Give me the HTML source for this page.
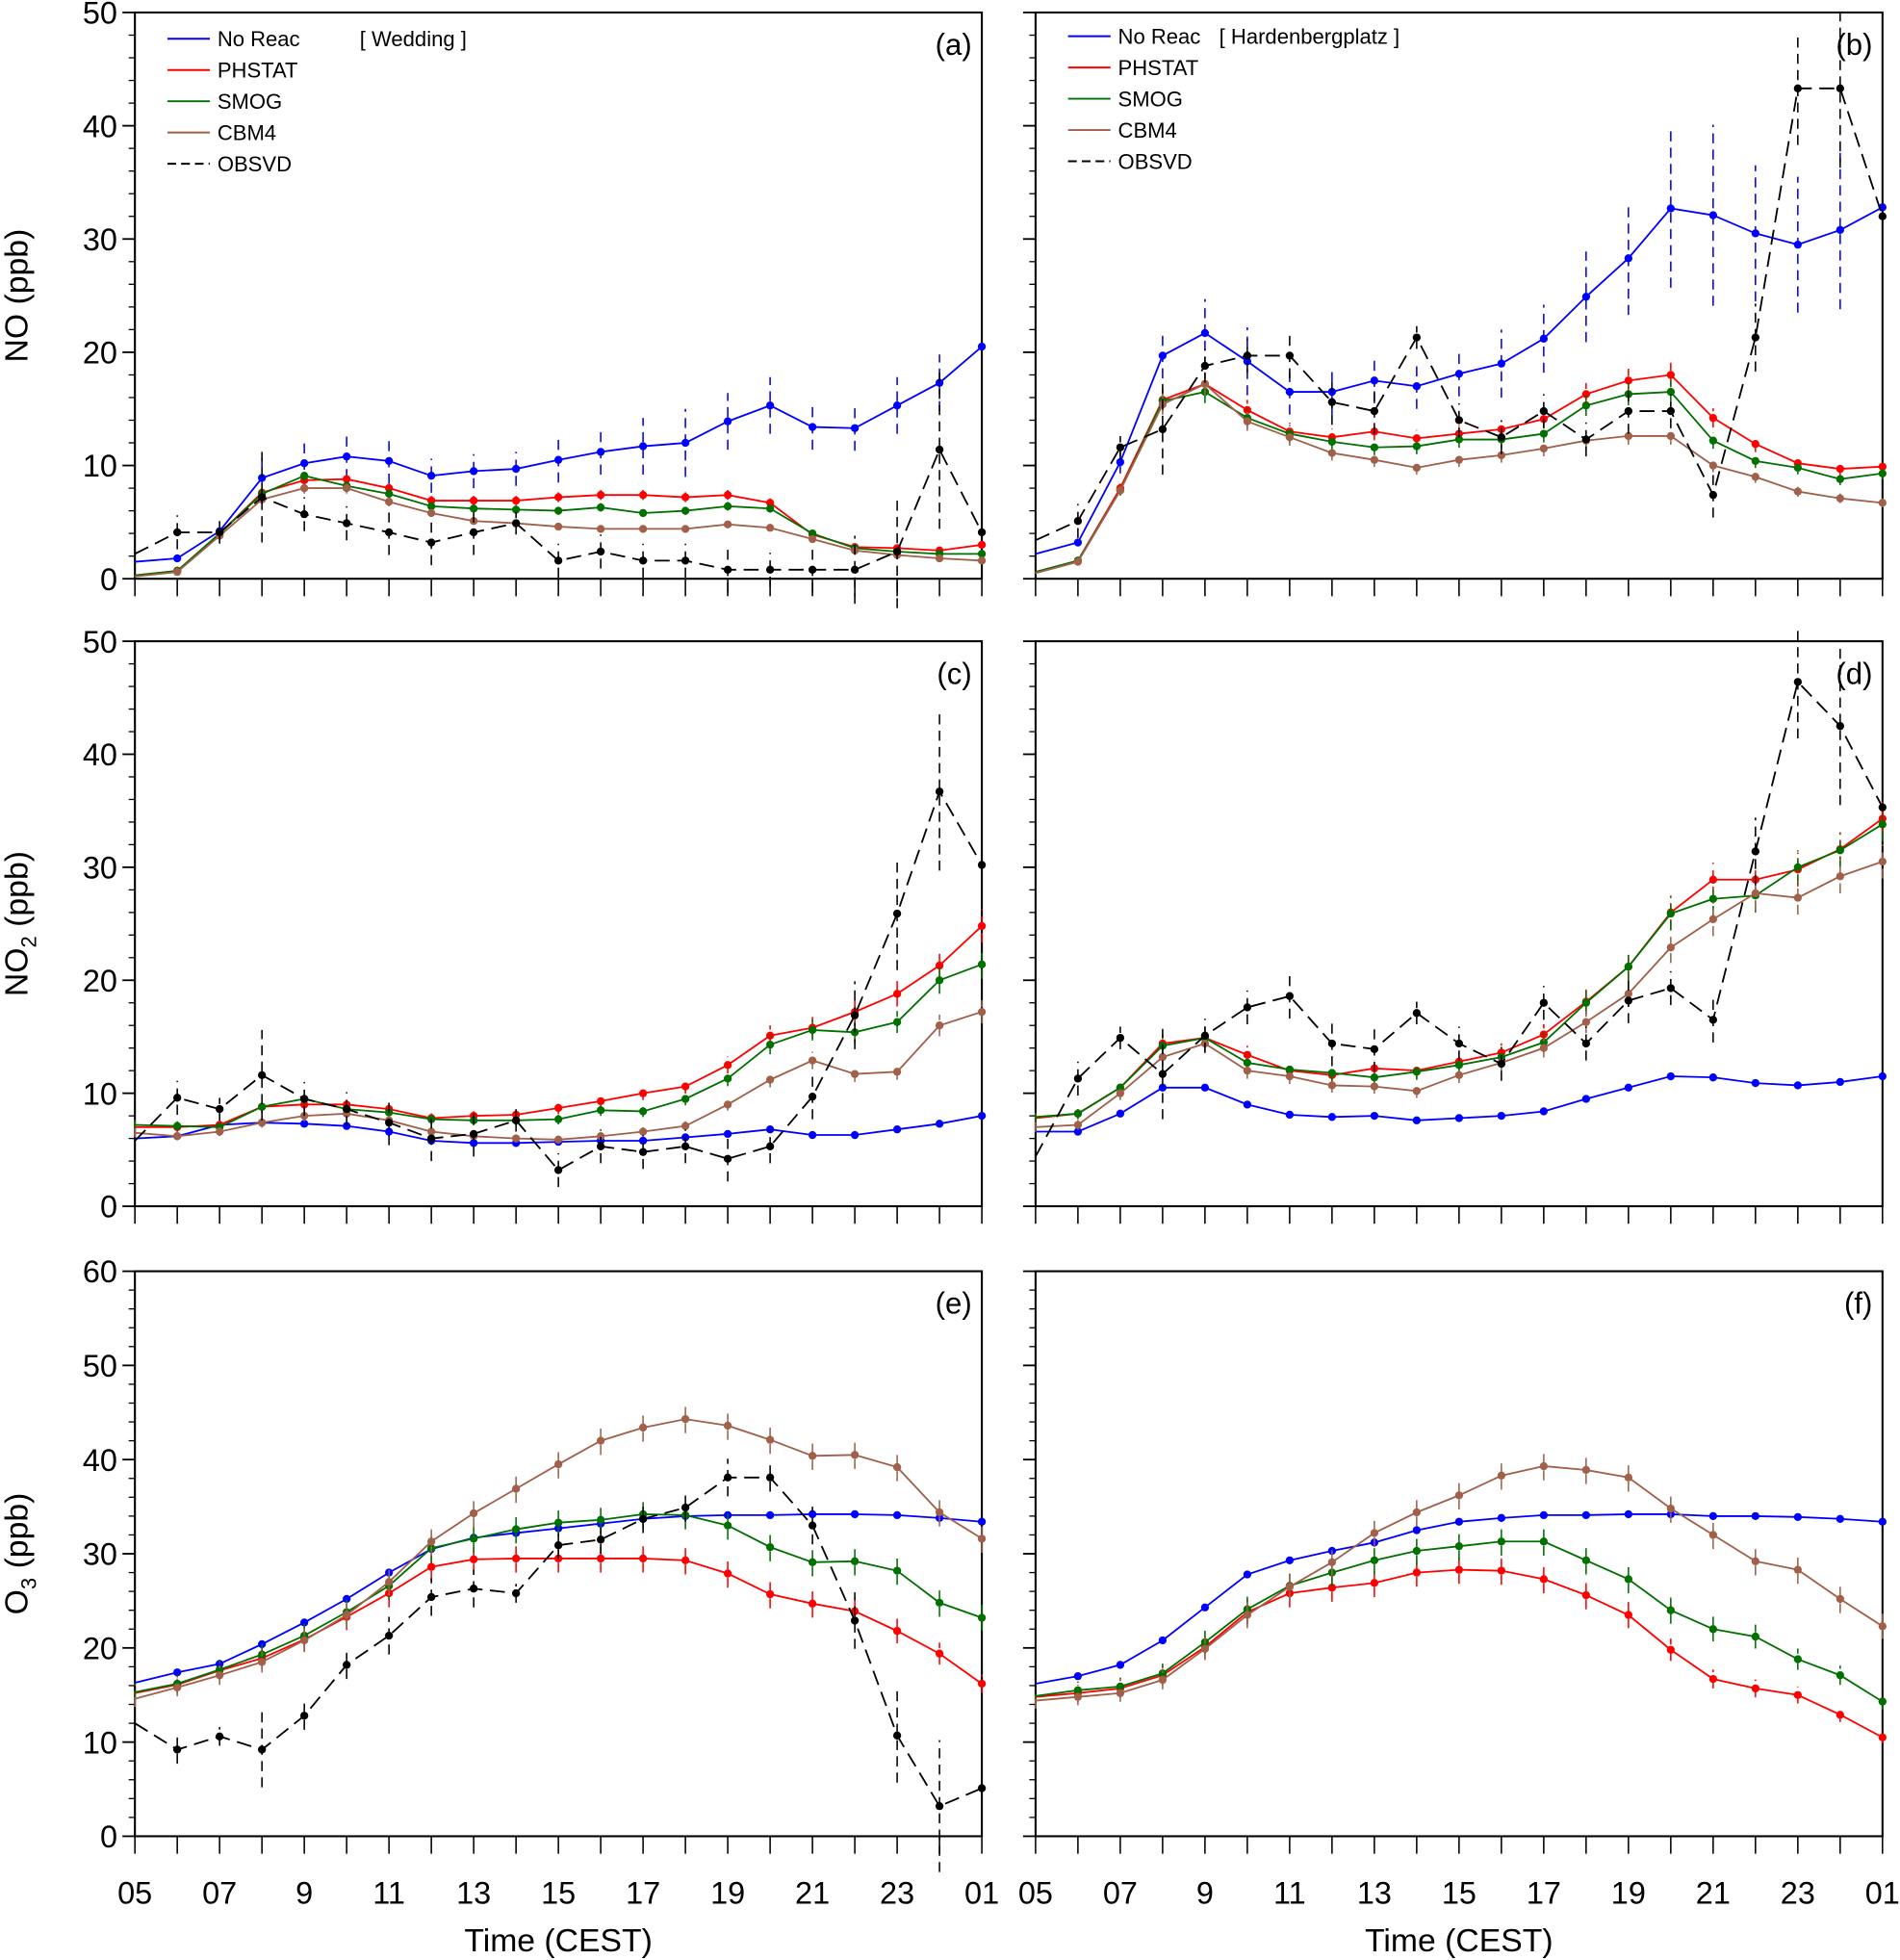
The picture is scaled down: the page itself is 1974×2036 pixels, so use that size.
<!DOCTYPE html>
<html><head><meta charset="utf-8"><style>
html,body{margin:0;padding:0;background:#fff}
svg{display:block}
text{font-family:"Liberation Sans",sans-serif}
</style></head><body>
<svg id="fig" xmlns="http://www.w3.org/2000/svg" width="1974" height="2036" viewBox="0 0 1521 1568" preserveAspectRatio="none"></svg>
<script>
const hours=[5,6,7,8,9,10,11,12,13,14,15,16,17,18,19,20,21,22,23,24,25];
const xTickLabels=["05","07","9","11","13","15","17","19","21","23","01"];
const xTickHours=[5,7,9,11,13,15,17,19,21,23,25];
const seriesNames=["No Reac","PHSTAT","SMOG","CBM4","OBSVD"];
const seriesColors=["#0000ff","#ff0000","#007000","#a0604a","#000000"];
// Panel a (NO Wedding)
const aNoReac=[1.5,1.8,4.2,8.9,10.2,10.8,10.4,9.1,9.5,9.7,10.5,11.2,11.7,12.0,13.9,15.3,13.4,13.3,15.3,17.3,20.5];
const aPhstat=[0.3,0.7,4.0,7.6,8.7,8.8,8.0,6.9,6.9,6.9,7.2,7.4,7.4,7.2,7.4,6.7,3.9,2.8,2.7,2.5,3.0];
const aSmog=[0.3,0.7,4.0,7.5,9.1,8.2,7.5,6.4,6.2,6.1,6.0,6.3,5.8,6.0,6.4,6.2,4.0,2.7,2.4,2.2,2.2];
const aCbm4=[0.2,0.6,3.8,7.0,8.0,8.0,6.8,5.8,5.1,4.9,4.6,4.4,4.4,4.4,4.8,4.5,3.5,2.5,2.1,1.8,1.6];
const aObs=[2.2,4.1,4.1,7.2,5.7,4.9,4.1,3.2,4.1,4.9,1.6,2.4,1.6,1.6,0.8,0.8,0.8,0.8,2.4,11.4,4.1];
// Panel b (NO Hardenbergplatz)
const bNoReac=[2.2,3.2,10.3,19.7,21.7,19.2,16.5,16.5,17.5,17.0,18.1,19.0,21.2,24.9,28.3,32.7,32.1,30.5,29.5,30.8,32.8];
const bPhstat=[0.6,1.6,8.0,15.8,17.2,14.9,13.0,12.5,13.0,12.4,12.8,13.2,14.1,16.3,17.5,18.0,14.2,11.9,10.2,9.7,9.9];
const bSmog=[0.6,1.6,7.8,15.7,16.5,14.2,12.8,12.1,11.6,11.7,12.3,12.3,12.8,15.3,16.3,16.5,12.2,10.4,9.8,8.8,9.3];
const bCbm4=[0.5,1.5,7.8,15.4,17.2,13.9,12.5,11.1,10.5,9.8,10.5,10.9,11.5,12.2,12.6,12.6,10.0,9.0,7.7,7.1,6.7];
const bObs=[3.4,5.1,11.6,13.2,18.8,19.7,19.7,15.6,14.8,21.3,14.0,12.5,14.8,12.3,14.8,14.8,7.4,21.3,43.3,43.3,32.0];
// Panel c (NO2 Wedding)
const cNoReac=[6.0,6.2,7.2,7.4,7.3,7.1,6.6,5.8,5.6,5.6,5.7,5.8,5.8,6.1,6.4,6.8,6.3,6.3,6.8,7.3,8.0];
const cPhstat=[7.0,7.0,7.2,8.8,9.0,9.0,8.6,7.8,8.0,8.1,8.7,9.3,10.0,10.6,12.5,15.1,15.8,17.2,18.8,21.3,24.8];
const cSmog=[7.2,7.1,7.0,8.8,9.5,8.6,8.3,7.7,7.6,7.6,7.7,8.5,8.4,9.5,11.3,14.3,15.6,15.4,16.3,20.0,21.4];
const cCbm4=[6.5,6.2,6.6,7.4,8.0,8.2,7.6,6.6,6.2,6.0,5.9,6.2,6.6,7.1,9.0,11.2,12.9,11.7,11.9,16.0,17.2];
const cObs=[5.8,9.6,8.6,11.6,9.5,8.6,7.4,6.0,6.4,7.6,3.2,5.3,4.8,5.3,4.2,5.3,9.7,16.9,25.9,36.7,30.2];
// Panel d (NO2 Hardenbergplatz)
const dNoReac=[6.6,6.6,8.2,10.5,10.5,9.0,8.1,7.9,8.0,7.6,7.8,8.0,8.4,9.5,10.5,11.5,11.4,10.9,10.7,11.0,11.5];
const dPhstat=[7.8,8.2,10.5,14.4,14.9,13.4,12.0,11.6,12.2,12.0,12.8,13.6,15.2,18.1,21.2,26.0,28.9,28.9,29.8,31.6,34.3];
const dSmog=[7.9,8.2,10.5,14.2,14.9,12.7,12.1,11.8,11.4,11.9,12.5,13.2,14.5,18.0,21.2,25.9,27.2,27.5,30.0,31.5,33.8];
const dCbm4=[7.0,7.2,10.0,13.2,14.4,12.0,11.5,10.7,10.6,10.2,11.6,12.7,14.0,16.3,18.8,22.9,25.4,27.7,27.3,29.2,30.5];
const dObs=[4.4,11.3,14.9,11.7,15.1,17.6,18.6,14.4,13.9,17.1,14.4,12.6,18.0,14.4,18.2,19.3,16.5,31.4,46.4,42.5,35.3];
// Panel e (O3 Wedding)
const eNoReac=[16.3,17.4,18.3,20.4,22.7,25.2,28.0,30.5,31.7,32.2,32.7,33.2,33.7,34.0,34.1,34.1,34.2,34.2,34.1,33.8,33.4];
const ePhstat=[15.2,16.1,17.6,18.9,20.9,23.3,25.8,28.6,29.4,29.5,29.5,29.5,29.5,29.3,27.9,25.7,24.7,23.9,21.8,19.4,16.2];
const eSmog=[15.3,16.2,17.7,19.3,21.3,23.8,26.6,30.6,31.6,32.6,33.3,33.6,34.2,34.1,33.0,30.7,29.1,29.2,28.2,24.8,23.2];
const eCbm4=[14.6,15.8,17.1,18.5,20.8,23.5,27.0,31.3,34.3,36.9,39.5,42.0,43.4,44.3,43.6,42.1,40.4,40.5,39.2,34.4,31.6];
const eObs=[12.0,9.2,10.6,9.2,12.8,18.2,21.3,25.4,26.3,25.8,30.9,31.5,33.7,34.9,38.1,38.1,33.0,22.9,10.7,3.2,5.1];
// Panel f (O3 Hardenbergplatz)
const fNoReac=[16.2,17.0,18.2,20.8,24.3,27.8,29.3,30.3,31.2,32.5,33.4,33.8,34.1,34.1,34.2,34.2,34.0,34.0,33.9,33.7,33.4];
const fPhstat=[14.8,15.2,15.7,17.1,20.1,23.8,25.8,26.4,26.9,28.0,28.3,28.2,27.3,25.6,23.5,19.8,16.7,15.7,15.0,12.9,10.5];
const fSmog=[14.9,15.5,15.9,17.3,20.6,24.1,26.6,28.0,29.3,30.3,30.8,31.3,31.3,29.3,27.3,24.0,22.0,21.2,18.8,17.1,14.3];
const fCbm4=[14.4,14.8,15.2,16.6,19.9,23.5,26.5,29.1,32.2,34.4,36.2,38.3,39.3,38.9,38.1,34.8,32.0,29.2,28.3,25.2,22.3];
// error half-widths (ppb)
const bNoReacErr=[0,0,1,2,3,3,2,2,2,2,2,3,3,4,5,7,8,6,6,7,0];
const aNoReacErr=[0,0,0,2,2,2,2,1.5,1.5,1.5,2,2,2.5,3,2.5,2.5,2,2,2.5,2.5,0];
const obsErr=[0,1.5,1,4,1.5,1.5,2,2,2,1,1.5,1.5,1.5,1.5,2,1.5,2,3,5,7,0];

const panels=[
 {id:"a",x0:108,x1:786,y0:10,y1:463,ymax:50,yTicks:[0,10,20,30,40,50],data:[aNoReac,aPhstat,aSmog,aCbm4,aObs],err:aNoReacErr,left:true,title:"NO (ppb)",legend:"[ Wedding ]",legX:288},
 {id:"b",x0:829,x1:1507,y0:10,y1:463,ymax:50,yTicks:[0,10,20,30,40,50],data:[bNoReac,bPhstat,bSmog,bCbm4,bObs],err:bNoReacErr,left:false,legend:"[ Hardenbergplatz ]",legX:976},
 {id:"c",x0:108,x1:786,y0:513,y1:965,ymax:50,yTicks:[0,10,20,30,40,50],data:[cNoReac,cPhstat,cSmog,cCbm4,cObs],err:null,left:true,title:"NO2"},
 {id:"d",x0:829,x1:1507,y0:513,y1:965,ymax:50,yTicks:[0,10,20,30,40,50],data:[dNoReac,dPhstat,dSmog,dCbm4,dObs],err:null,left:false},
 {id:"e",x0:108,x1:786,y0:1017,y1:1469,ymax:60,yTicks:[0,10,20,30,40,50,60],data:[eNoReac,ePhstat,eSmog,eCbm4,eObs],err:null,left:true,title:"O3",bottom:true},
 {id:"f",x0:829,x1:1507,y0:1017,y1:1469,ymax:60,yTicks:[0,10,20,30,40,50,60],data:[fNoReac,fPhstat,fSmog,fCbm4,null],err:null,left:false,bottom:true}
];
const NS="http://www.w3.org/2000/svg";
const svg=document.getElementById('fig');
function mk(tag,attrs,parent){const e=document.createElementNS(NS,tag);for(const k in attrs)e.setAttribute(k,attrs[k]);(parent||svg).appendChild(e);return e;}
panels.forEach(p=>{
 const g=mk('g',{});
 
 
 const xs=h=>p.x0+(h-5)/20*(p.x1-p.x0);
 const ys=v=>p.y1-v/p.ymax*(p.y1-p.y0);
 const fr=mk('rect',{x:p.x0,y:p.y0,width:p.x1-p.x0,height:p.y1-p.y0,fill:"none",stroke:"#000","stroke-width":1.6},g);
 
 
 // y ticks
 for(let v=0;v<=p.ymax;v+=2){
  const maj=v%10===0;
  mk('line',{x1:p.x0-(maj?10:5),x2:p.x0,y1:ys(v),y2:ys(v),stroke:"#000","stroke-width":maj?1.4:1},g);
 }
 if(p.left){p.yTicks.forEach(v=>{const t=mk('text',{x:p.x0-14,y:ys(v)+9,"text-anchor":"end","font-size":25},g);t.textContent=v;
  });}
 // x ticks
 hours.forEach(h=>{mk('line',{x1:xs(h),x2:xs(h),y1:p.y1,y2:p.y1+14,stroke:"#000","stroke-width":1.2},g);});
 if(p.bottom){xTickHours.forEach((h,i)=>{const t=mk('text',{x:xs(h),y:p.y1+54,"text-anchor":"middle","font-size":25},g);t.textContent=xTickLabels[i];
  });
  const xt=mk('text',{x:(p.x0+p.x1)/2,y:p.y1+92,"text-anchor":"middle","font-size":26},g);xt.textContent="Time (CEST)";
  }
 if(p.title){
  const cy=(p.y0+p.y1)/2;
  const t=mk('text',{x:0,y:0,"text-anchor":"middle","font-size":26,transform:`translate(22,${cy}) rotate(-90)`},g);
  
  if(p.title==="NO (ppb)"){t.textContent="NO (ppb)";}
  else{const a=mk('tspan',{},t);a.textContent=p.title==="NO2"?"NO":"O";const b=mk('tspan',{"font-size":17,dy:7},t);b.textContent=p.title==="NO2"?"2":"3";const c=mk('tspan',{dy:-7},t);c.textContent=" (ppb)";}
 }
 const pl=mk('text',{x:p.x1-8,y:p.y0+34,"text-anchor":"end","font-size":24},g);pl.textContent="("+p.id+")";
 
 // series
 p.data.forEach((arr,si)=>{
  if(!arr)return;
  const col=seriesColors[si];
  const sg=mk('g',{},g);
  
  
  const er=(si===0&&p.err)?p.err:(si===4?obsErr:null);
  arr.forEach((v,i)=>{
   const e=er?er[i]:(si>0&&si<4?Math.min(1.5,v*0.06):0);
   if(e>0)mk('line',{x1:xs(hours[i]),x2:xs(hours[i]),y1:ys(v-e),y2:ys(v+e),stroke:col,"stroke-width":1.2,"stroke-dasharray":"8 5"},sg);
  });
  const d=arr.map((v,i)=>(i?'L':'M')+xs(hours[i]).toFixed(1)+' '+ys(v).toFixed(1)).join(' ');
  const path=mk('path',{d:d,fill:"none",stroke:col,"stroke-width":si===4?1.4:1.4,"stroke-dasharray":si===4?"12 6":"none"},sg);
  
  arr.forEach((v,i)=>{if(i===0)return;const c=mk('circle',{cx:xs(hours[i]),cy:ys(v),r:3.2,fill:col},sg);
   });
 });
 // legend
 if(p.legend){
  const lx=p.x0+26, ly=p.id==="a"?31:29;
  seriesNames.forEach((n,i)=>{
   const y=ly+25*i;
   const lg=mk('g',{},g);
   
   mk('line',{x1:lx,x2:lx+34,y1:y,y2:y,stroke:seriesColors[i],"stroke-width":1.5,"stroke-dasharray":i===4?"7 4":"none"},lg);
   const t=mk('text',{x:lx+40,y:y+6,"font-size":17},lg);t.textContent=n;
  });
  const t=mk('text',{x:p.legX,y:ly+6,"font-size":17},g);t.textContent=p.legend;
  
 }
});
</script>
</body></html>
